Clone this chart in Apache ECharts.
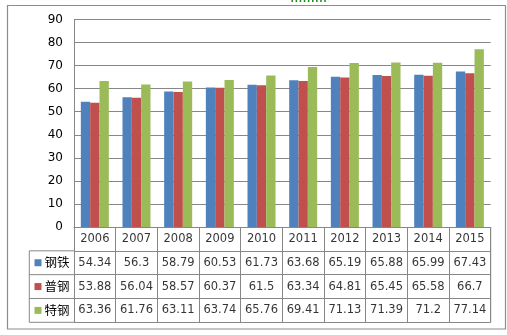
<!DOCTYPE html>
<html>
<head>
<meta charset="utf-8">
<script src="https://cdn.jsdelivr.net/npm/echarts@6/dist/echarts.min.js"></script>
<style>
  html, body { margin: 0; padding: 0; background: #fff; }
  #chart { width: 507px; height: 335px; }
</style>
</head>
<body>
<div id="chart"></div>
<script>
// Years and steel output shares per category
const years = ['2006', '2007', '2008', '2009', '2010', '2011', '2012', '2013', '2014', '2015'];
const seriesNames = ['钢铁', '普钢', '特钢'];
const gangtie = [54.34, 56.3, 58.79, 60.53, 61.73, 63.68, 65.19, 65.88, 65.99, 67.43];
const pugang  = [53.88, 56.04, 58.57, 60.37, 61.5, 63.34, 64.81, 65.45, 65.58, 66.7];
const tegang  = [63.36, 61.76, 63.11, 63.74, 65.76, 69.41, 71.13, 71.39, 71.2, 77.14];
const yTicks = [0, 10, 20, 30, 40, 50, 60, 70, 80, 90];

const colors = ['#4F81BD', '#C0504D', '#9BBB59'];
const lineColor = '#878787';
const numFont = 'DejaVu Sans';
const cjkFont = 'Noto Sans CJK SC';

// layout of the plot area and the data table beneath it
const plotLeft = 74, plotRight = 490.7, plotTop = 19.5, plotBottom = 227;
const tableBottom = 322.3, legendLeft = 29.3;
const rowRows = ['', ...seriesNames];
const rowH = (tableBottom - plotBottom) / rowRows.length;
const barW = (plotRight - plotLeft) / years.length * 0.224;

const valueRows = [gangtie, pugang, tegang];

// table cells: header row with years, then one row per series
const headerCells = years.map((y, i) => ({ value: [i, 0], label: { formatter: y } }));
const valueCells = [];
valueRows.forEach((arr, r) => {
  arr.forEach((v, i) => {
    valueCells.push({ value: [i, r + 1], label: { formatter: String(v) } });
  });
});

const chart = echarts.init(document.getElementById('chart'), null, { renderer: 'canvas' });

const legendRich = { t: { fontFamily: cjkFont, fontSize: 12.5, color: '#000', padding: [0, 0, 0, 3] } };
colors.forEach((c, i) => {
  legendRich['c' + i] = { width: 7, height: 7, backgroundColor: c };
});

chart.setOption({
  animation: false,
  backgroundColor: '#fff',
  grid: [
    { left: plotLeft, top: plotTop, width: plotRight - plotLeft, height: plotBottom - plotTop },
    { left: plotLeft, top: plotBottom, width: plotRight - plotLeft, height: tableBottom - plotBottom }
  ],
  xAxis: [
    {
      type: 'category', gridIndex: 0, data: years,
      axisLine: { show: true, lineStyle: { color: lineColor, width: 1 } },
      axisTick: { show: false }, axisLabel: { show: false }, splitLine: { show: false }
    },
    {
      type: 'category', gridIndex: 1, data: years, position: 'top',
      axisLine: { show: false }, axisTick: { show: false }, axisLabel: { show: false },
      splitLine: { show: true, interval: 0, lineStyle: { color: lineColor, width: 1 } }
    }
  ],
  yAxis: [
    {
      type: 'value', gridIndex: 0, min: 0, max: 90, interval: 10,
      axisLine: { show: true, lineStyle: { color: lineColor, width: 1 } },
      axisTick: { show: false },
      axisLabel: {
        margin: 11, color: '#000', fontFamily: numFont, fontSize: 12,
        formatter: v => yTicks.includes(v) ? String(v) : ''
      },
      splitLine: { show: true, lineStyle: { color: lineColor, width: 1 } }
    },
    {
      type: 'category', gridIndex: 1, data: rowRows, inverse: true,
      axisLine: { show: true, lineStyle: { color: lineColor, width: 1 } },
      axisTick: { show: false },
      splitLine: { show: true, interval: 0, lineStyle: { color: lineColor, width: 1 } },
      axisLabel: {
        interval: 0, align: 'left', margin: plotLeft - 34.5,
        formatter: (v, i) => i === 0 ? '' : '{c' + (i - 1) + '|}{t|' + v + '}',
        rich: legendRich
      }
    }
  ],
  series: [
    { name: seriesNames[0], type: 'bar', data: gangtie, itemStyle: { color: colors[0] }, barGap: '0%', barWidth: barW },
    { name: seriesNames[1], type: 'bar', data: pugang, itemStyle: { color: colors[1] }, barGap: '0%', barWidth: barW },
    { name: seriesNames[2], type: 'bar', data: tegang, itemStyle: { color: colors[2] }, barGap: '0%', barWidth: barW },
    {
      type: 'scatter', xAxisIndex: 1, yAxisIndex: 1, symbolSize: 0, silent: true,
      data: headerCells.concat(valueCells),
      label: { show: true, position: 'inside', color: '#000', fontFamily: numFont, fontSize: 11.5 }
    }
  ],
  graphic: [
    // chart frame
    { type: 'rect', shape: { x: 7.5, y: 5.5, width: 498, height: 323.5 },
      style: { fill: null, stroke: '#8c8c8c', lineWidth: 1.2 }, silent: true },
    // legend column borders of the data table
    { type: 'line', shape: { x1: legendLeft, y1: plotBottom + rowH, x2: legendLeft, y2: tableBottom },
      style: { stroke: lineColor, lineWidth: 1 }, silent: true },
    ...[1, 2, 3, 4].map(k => ({
      type: 'line',
      shape: { x1: legendLeft, y1: plotBottom + k * rowH, x2: plotLeft, y2: plotBottom + k * rowH },
      style: { stroke: lineColor, lineWidth: 1 }, silent: true
    })),
    // right edge of the data table
    { type: 'line', shape: { x1: plotRight, y1: plotBottom, x2: plotRight, y2: tableBottom },
      style: { stroke: lineColor, lineWidth: 1 }, silent: true },
    // dotted green mark along the top edge
    { type: 'line', shape: { x1: 291.5, y1: 1, x2: 328.5, y2: 1 },
      style: { stroke: '#1e8c1e', lineWidth: 2, lineDash: [1.5, 2.6] }, silent: true }
  ]
});
</script>
</body>
</html>
